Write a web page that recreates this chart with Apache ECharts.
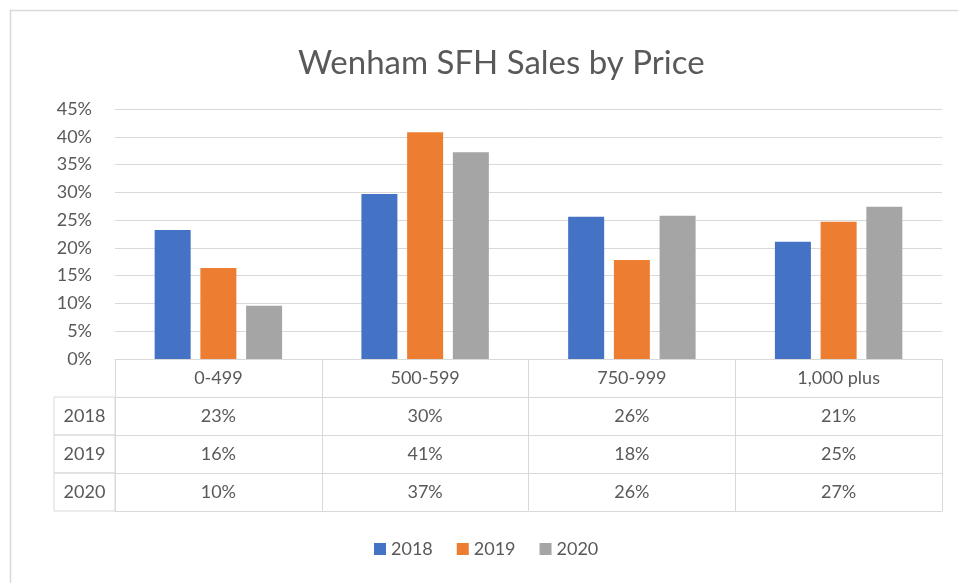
<!DOCTYPE html>
<html>
<head>
<meta charset="utf-8">
<style>
  html, body { margin: 0; padding: 0; background: #fff; }
  #chart { width: 958px; height: 583px; }
</style>
<script src="https://cdn.jsdelivr.net/npm/echarts@6/dist/echarts.min.js"></script>
</head>
<body>
<div id="chart"></div>
<script>
  // price ranges (in $1000s)
  const categories = ['0-499', '500-599', '750-999', '1,000 plus']
  const years = ['2018', '2019', '2020']
  // share of sales, %
  const sales2018 = [23.2, 29.7, 25.6, 21.1]
  const sales2019 = [16.4, 40.8, 17.8, 24.7]
  const sales2020 = [9.6, 37.2, 25.8, 27.4]
  const yTicks = [0, 5, 10, 15, 20, 25, 30, 35, 40, 45]

  const seriesValues = [sales2018, sales2019, sales2020]
  const colors = ['#4472C4', '#ED7D31', '#A5A5A5']
  const font = 'Lato, "Noto Sans", sans-serif'
  const textColor = '#595959'
  const lineColor = '#d9d9d9'
  const fs = 18

  const gridLeft = 115, gridRight = 16, gridTop = 109, gridBottom = 224
  const rowH = 38
  const axisY = 583 - gridBottom

  // one x axis per table row, stacked under the plot
  let xAxes = [{
    type: 'category',
    data: categories,
    position: 'bottom',
    axisLine: {show: true, lineStyle: {color: lineColor, width: 1}},
    axisTick: {show: true, length: rowH, lineStyle: {color: lineColor}},
    axisLabel: {margin: 10, color: textColor, fontSize: fs, fontFamily: font},
  }]
  seriesValues.forEach(function (vals, i) {
    xAxes.push({
      type: 'category',
      data: categories,
      position: 'bottom',
      offset: rowH * (i + 1),
      axisLine: {show: true, lineStyle: {color: lineColor, width: 1}},
      axisTick: {show: true, length: rowH, lineStyle: {color: lineColor}},
      axisLabel: {
        margin: 10, color: textColor, fontSize: fs, fontFamily: font,
        formatter: function (v, idx) { return Math.round(vals[idx]) + '%' }
      },
    })
  })
  xAxes.push({
    type: 'category',
    data: categories,
    position: 'bottom',
    offset: rowH * 4,
    axisLine: {show: true, lineStyle: {color: lineColor, width: 1}},
    axisTick: {show: false},
    axisLabel: {show: false},
  })

  // row header cells of the data table
  let rowHeaders = []
  years.forEach(function (y, i) {
    rowHeaders.push({
      type: 'rect',
      shape: {x: 54, y: axisY + rowH * (i + 1), width: gridLeft - 54, height: rowH},
      style: {fill: 'none', stroke: lineColor, lineWidth: 1},
    })
    rowHeaders.push({
      type: 'text',
      x: (54 + gridLeft) / 2,
      y: axisY + rowH * (i + 1) + rowH / 2,
      style: {text: y, fill: textColor, font: fs + 'px ' + font, align: 'center', verticalAlign: 'middle'},
    })
  })

  let option = {
    animation: false,
    backgroundColor: '#fff',
    color: colors,
    title: {
      text: 'Wenham SFH Sales by Price',
      left: 293,
      top: 42,
      textStyle: {color: textColor, fontSize: 33, fontWeight: 'normal', fontFamily: font},
    },
    legend: {
      data: years,
      left: 369,
      top: 535,
      itemWidth: 12,
      itemHeight: 12,
      itemGap: 24,
      icon: 'rect',
      textStyle: {color: textColor, fontSize: fs, fontFamily: font},
    },
    grid: {left: gridLeft, right: gridRight, top: gridTop, bottom: gridBottom, containLabel: false},
    xAxis: xAxes,
    yAxis: {
      type: 'value',
      min: yTicks[0],
      max: yTicks[yTicks.length - 1],
      interval: 5,
      axisLine: {show: false},
      axisTick: {show: false},
      axisLabel: {margin: 23, color: textColor, fontSize: fs, fontFamily: font, formatter: '{value}%'},
      splitLine: {lineStyle: {color: lineColor, width: 1}},
    },
    series: seriesValues.map(function (vals, i) {
      return {
        name: years[i],
        type: 'bar',
        data: vals,
        barWidth: 36,
        barGap: '27%',
        itemStyle: {color: colors[i]},
      }
    }),
    graphic: [{
      type: 'rect',
      shape: {x: 10.5, y: 10.5, width: 1200, height: 1200},
      style: {fill: 'none', stroke: lineColor, lineWidth: 1.5},
      silent: true,
    }].concat(rowHeaders),
  }

  let myChart = echarts.init(document.getElementById('chart'))
  myChart.setOption(option)
</script>
</body>
</html>
